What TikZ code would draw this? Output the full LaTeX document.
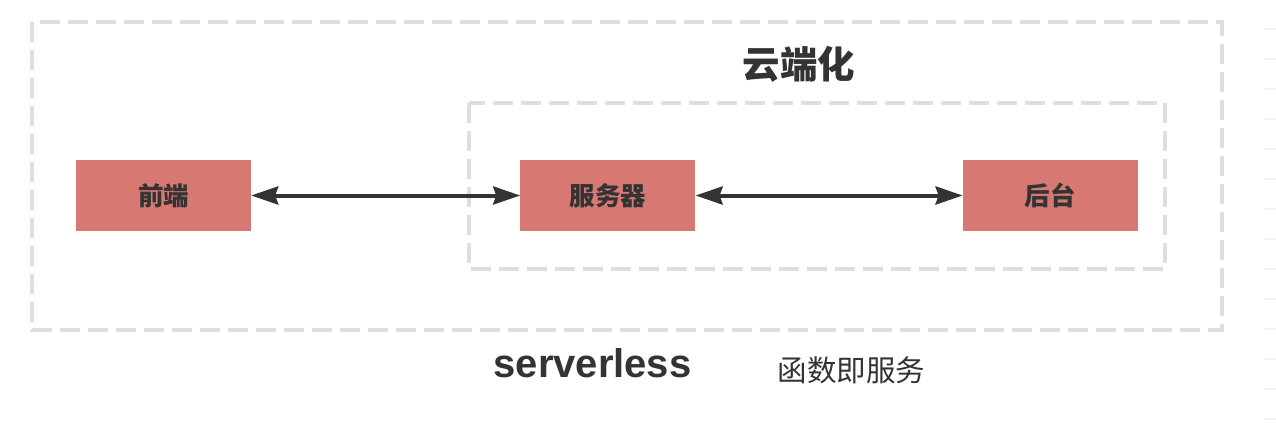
\documentclass[tikz,border=0pt]{standalone}
\usepackage{fontspec}
\newfontfamily\cjk{Noto Sans CJK SC}
\newfontfamily\latin{Liberation Sans}
\usetikzlibrary{arrows.meta,positioning}
\definecolor{boxred}{RGB}{215,120,115}
\definecolor{ink}{RGB}{51,51,51}
\definecolor{framegray}{RGB}{222,222,222}
\definecolor{rulegray}{RGB}{242,242,242}
\tikzset{
    %Define standard arrow tip
    >={Stealth[length=27pt,width=18pt,inset=3pt]},
    block/.style={
      rectangle,
      fill=boxred,
      minimum width=175pt,
      minimum height=71pt,
      inner sep=0pt,
      text=ink,
      font=\cjk\bfseries\fontsize{25.5}{28}\selectfont},
    dashframe/.style={
      draw=framegray,
      line width=3.5pt,
      dash pattern=on 20pt off 8pt},
    link/.style={
      <->,
      draw=ink,
      line width=4pt},
    caption/.style={
      text=ink,
      inner sep=0pt}
}

\begin{document}
\begin{tikzpicture}[x=1pt,y=-1pt]
\useasboundingbox (0,0) rectangle (1276,426);
% frames
\draw[dashframe] (32,22) rectangle (1222,330);
\draw[dashframe] (469,103) rectangle (1165,269);
% ruler ticks on the right
\foreach \y in {-1,29,...,419}
  \draw[rulegray, line width=2pt] (1264,\y) -- (1276,\y);
% blocks
\node[block] (front) at (163.5,195.5) {前端};
\node[block, right=269pt of front] (server) {服务器};
\node[block, right=267pt of server] (backend) {后台};
\draw[link] (front) -- (server);
\draw[link] (server) -- (backend);
% labels
\node[caption, font=\cjk\bfseries\fontsize{37.5}{40}\selectfont] (cloud) at (799,64) {云端化};
\node[caption, font=\latin\bfseries\fontsize{40}{44}\selectfont, anchor=base] (sless) at (592.5,377) {serverless};
\node[caption, font=\cjk\fontsize{29.5}{32}\selectfont] (faas) at (851.5,370) {函数即服务};
\end{tikzpicture}
\end{document}
